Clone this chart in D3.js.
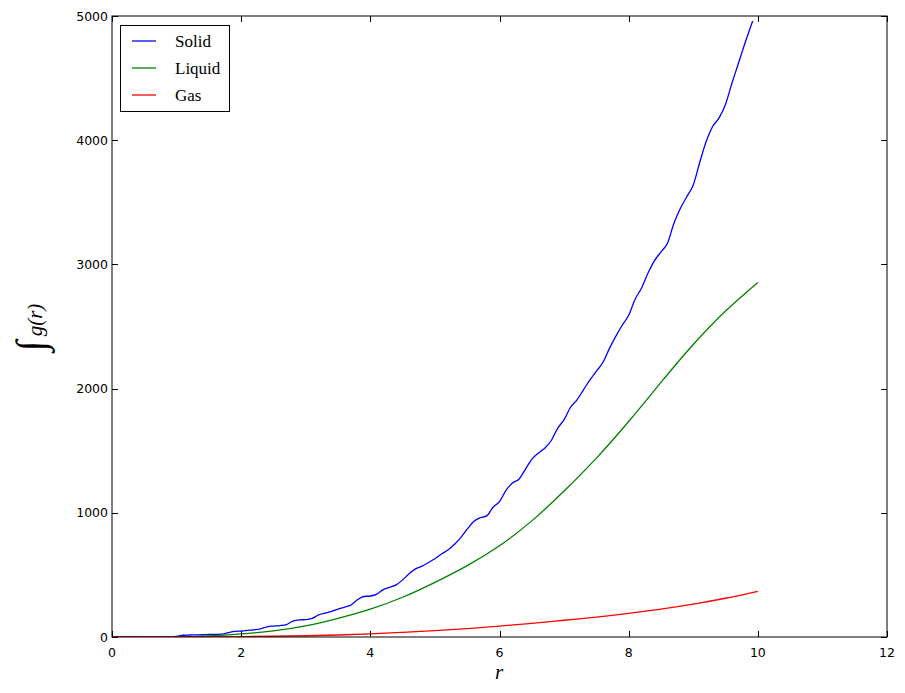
<!DOCTYPE html>
<html><head><meta charset="utf-8">
<script src="https://cdn.jsdelivr.net/npm/d3@7"></script>
<style>body{margin:0;background:#fff}svg{display:block}</style>
</head><body><svg id="c" width="905" height="693"></svg>
<script>
// Data
const solidR = [0,0.5,0.9,1.0,1.1,1.2,1.3,1.4,1.5,1.6,1.7,1.8,1.9,2.0,2.1,2.2,2.3,2.4,2.5,2.6,2.7,2.8,2.9,3.0,3.1,3.2,3.3,3.4,3.5,3.6,3.7,3.8,3.9,4.0,4.1,4.2,4.3,4.4,4.5,4.6,4.7,4.8,4.9,5.0,5.1,5.2,5.3,5.4,5.5,5.6,5.7,5.8,5.9,6.0,6.1,6.2,6.3,6.4,6.5,6.6,6.7,6.8,6.9,7.0,7.1,7.2,7.3,7.4,7.5,7.6,7.7,7.8,7.9,8.0,8.1,8.2,8.3,8.4,8.5,8.6,8.7,8.8,8.9,9.0,9.1,9.2,9.3,9.4,9.5,9.6,9.7,9.8,9.92];
const solidV = [0,0,0,5,14,16,17,18,20,21,23,35,45,48,53,58,66,82,88,92,100,128,138,140,150,178,192,206,225,240,258,300,326,330,345,382,400,420,460,510,548,570,600,630,668,700,745,800,868,930,960,975,1045,1090,1180,1240,1270,1350,1430,1480,1520,1580,1680,1750,1850,1910,1990,2070,2140,2210,2320,2420,2510,2590,2720,2810,2930,3030,3100,3170,3330,3450,3545,3640,3820,3990,4110,4180,4290,4460,4620,4780,4960];
const fluidR = [0,0.5,1.0,1.5,2.0,2.5,3.0,3.5,4.0,4.5,5.0,5.5,6.0,6.5,7.0,7.5,8.0,8.5,9.0,9.5,10.0];
const liquidV = [0,0,0,8,25,50,90,150,225,320,440,575,735,935,1175,1440,1735,2050,2355,2625,2855];
const gasV = [0,0,0,1,3,6,10,16,25,38,52,68,88,110,135,160,190,225,265,312,368];
const xTicks = [0,2,4,6,8,10,12];
const yTicks = [0,1000,2000,3000,4000,5000];
const seriesNames = ["Solid","Liquid","Gas"];
const seriesColors = ["#0000ff","#008000","#ff0000"];

const svg = d3.select("#c");
const L = 112, R = 887, T = 16, B = 637;
const x = d3.scaleLinear().domain([0,12]).range([L,R]);
const y = d3.scaleLinear().domain([0,5000]).range([B,T]);

svg.append("defs").append("clipPath").attr("id","pc")
  .append("rect").attr("x",L).attr("y",T).attr("width",R-L).attr("height",B-T);

const lineM = d3.line().x(d=>x(d[0])).y(d=>y(d[1])).curve(d3.curveMonotoneX);
const lineC = d3.line().x(d=>x(d[0])).y(d=>y(d[1])).curve(d3.curveNatural);
const series = [
  solidR.map((r,i)=>[r,solidV[i]]),
  fluidR.map((r,i)=>[r,liquidV[i]]),
  fluidR.map((r,i)=>[r,gasV[i]])
];
const g = svg.append("g").attr("clip-path","url(#pc)");
series.forEach((s,i)=>{
  g.append("path").datum(s).attr("d", i===0 ? lineM : lineC).attr("fill","none")
   .attr("stroke",seriesColors[i]).attr("stroke-width",1.3);
});

// frame
svg.append("rect").attr("x",L).attr("y",T).attr("width",R-L).attr("height",B-T)
  .attr("fill","none").attr("stroke","#000").attr("stroke-width",1);

// ticks (inside, on all four sides)
const tl = 6;
const ax = svg.append("g").attr("stroke","#000").attr("stroke-width",1);
xTicks.forEach(t=>{
  const px = Math.round(x(t))+0.5;
  ax.append("line").attr("x1",px).attr("x2",px).attr("y1",B).attr("y2",B-tl);
  ax.append("line").attr("x1",px).attr("x2",px).attr("y1",T).attr("y2",T+tl);
});
yTicks.forEach(t=>{
  const py = Math.round(y(t))+0.5;
  ax.append("line").attr("x1",L).attr("x2",L+tl).attr("y1",py).attr("y2",py);
  ax.append("line").attr("x1",R).attr("x2",R-tl).attr("y1",py).attr("y2",py);
});
const tf = "'DejaVu Sans', sans-serif";
svg.append("g").selectAll("text").data(xTicks).join("text")
  .attr("x",d=>x(d)).attr("y",B+20).attr("text-anchor","middle")
  .attr("font-family",tf).attr("font-size",12.5).text(d=>d);
svg.append("g").selectAll("text").data(yTicks).join("text")
  .attr("x",L-4).attr("y",d=>y(d)+4.5).attr("text-anchor","end")
  .attr("font-family",tf).attr("font-size",12.5).text(d=>d);

// axis labels
const sf = "'Liberation Serif','DejaVu Serif',serif";
svg.append("text").attr("x",499).attr("y",679).attr("text-anchor","middle")
  .attr("font-family",sf).attr("font-style","italic").attr("font-size",21).text("r");
svg.append("text").attr("transform","translate(44,346) rotate(-90)")
  .attr("text-anchor","middle").attr("font-family",sf).attr("font-size",40).text("∫");
svg.append("text").attr("transform","translate(42,320) rotate(-90)")
  .attr("text-anchor","middle").attr("font-family",sf).attr("font-size",21).attr("font-style","italic").text("g(r)");

// legend
const lg = svg.append("g");
lg.append("rect").attr("x",120.5).attr("y",25.5).attr("width",109).attr("height",86)
  .attr("fill","#fff").attr("stroke","#000").attr("stroke-width",1);
const ly = [41,68,95];
seriesNames.forEach((n,i)=>{
  lg.append("line").attr("x1",132).attr("x2",156).attr("y1",ly[i]).attr("y2",ly[i])
    .attr("stroke",seriesColors[i]).attr("stroke-width",1.3);
  lg.append("text").attr("x",175).attr("y",ly[i]+5.5).attr("font-family",sf)
    .attr("font-size",17).text(n);
});
</script></body></html>
